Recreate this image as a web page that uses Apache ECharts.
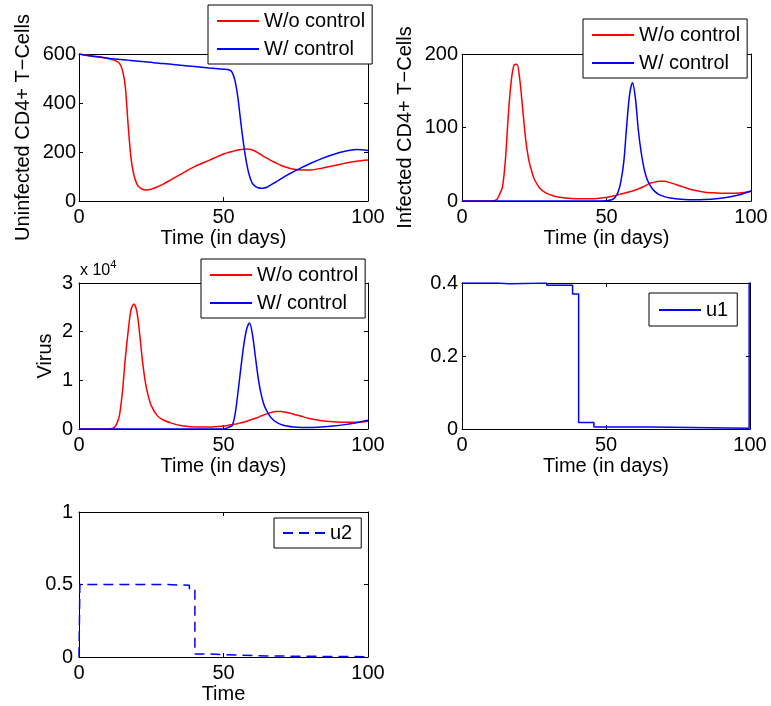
<!DOCTYPE html>
<html>
<head>
<meta charset="utf-8">
<script src="https://cdn.jsdelivr.net/npm/echarts@6/dist/echarts.min.js"></script>
<style>html,body{margin:0;padding:0;background:#fff;}#c{width:771px;height:706px;}</style>
</head>
<body>
<div id="c"></div>
<script>
// ---- data ----
const days = [0,4,8,10,12,13,14,15,16,17,18,19,20,21,22,23,24,25,27,29,32,35,40,45,50,52,53,54,55,56,57,58,59,60,61,62,63,64,65,66,67,68,70,72,74,77,80,84,88,92,96,100];
const uninfectedWo = [600,593,587,582,575,570,562,535,470,310,175,106,70,55,48,45,46,48,57,68,88,108,140,166,192,199,202,205,208,210,211,212,211,208,203,196,189,181,175,168,162,156,145,137,131,127,127,134,144,154,162,167];
const uninfectedW = [600,592,586,583,580,579,578,577,576,575,573,572,571,570,569,568,567,566,563,561,558,554,549,543,538,535,525,490,420,320,228,154,102,72,60,54,52,53,56,63,70,77,91,106,118,136,153,173,190,203,210,206];
const infectedWo = [0,0,0,0,2,9,19,55,115,162,185,186,165,125,85,58,42,30,17,11,6.5,4.5,3,3,4.8,6.5,7.5,8.5,9.5,10.5,11.5,12.5,13.7,15,16.5,18,20,22,24,25,26,26.8,27,25,22.5,18.5,15,12,11,10.5,11,13];
const infectedW = [0,0,0,0,0,0,0,0,0,0,0,0,0,0,0,0,0,0,0,0,0,0,0,0,0.3,2,5,12,27,54,103,145,161,140,97,66,44,30,22,16,12,9,6,4,3,2,1.7,2,3,5,8.5,14];
const virusWo = [0,0,0,0,200,1000,2800,7500,14300,20000,24500,25700,24200,19500,13800,9500,6700,4800,2800,1900,1200,700,400,400,600,800,900,1000,1100,1300,1400,1600,1800,2000,2200,2400,2700,2900,3100,3300,3500,3600,3600,3400,3100,2600,2100,1700,1500,1400,1400,1600];
const virusW = [0,0,0,0,0,0,0,0,0,0,0,0,0,0,0,0,0,0,0,0,0,0,0,0,0,400,700,3000,7500,12500,17200,20500,21800,19500,15000,10500,7200,5000,3700,2700,2000,1500,900,600,400,300,300,400,600,900,1300,1800];
const u1Time = [0,12,16.5,29.4,38.4,40.5,45.8,65.3,99.7,100];
const u1Value = [0.4,0.398,0.4,0.394,0.37,0.018,0.0055,0.002,0.4,0.4];
const u2Time = [0,0.3,29.2,38.2,40.1,45.3,65,100];
const u2Value = [0,0.5,0.495,0.469,0.02,0.007,0.002,0.002];
const labelWo = 'W/o control';
const labelW = 'W/ control';

// ---- chart ----
const FONT = 'Liberation Sans, Arial, Helvetica, sans-serif';
const RED = '#ff0000', BLUE = '#0000ff';
const pairs = (xs, ys) => xs.map((x, i) => [x, ys[i]]);

const grids = [
  {left: 79, top: 54, width: 289, height: 147},
  {left: 462, top: 54, width: 289, height: 147},
  {left: 79, top: 283, width: 289, height: 146},
  {left: 462, top: 283, width: 288, height: 146},
  {left: 79, top: 512, width: 289, height: 145}
];

function xAxes(gi, name) {
  const common = {
    gridIndex: gi, type: 'value', min: 0, max: 100, interval: 50,
    axisLine: {onZero: false, lineStyle: {color: '#000', width: 1}},
    axisTick: {inside: true, length: 4, lineStyle: {color: '#000'}},
    splitLine: {show: false}
  };
  return [
    Object.assign({}, common, {
      position: 'bottom', name: name, nameLocation: 'middle', nameGap: 27,
      nameTextStyle: {fontSize: 20, color: '#000', fontFamily: FONT},
      axisLabel: {fontSize: 20, color: '#000', margin: 6, fontFamily: FONT}
    }),
    Object.assign({}, common, {position: 'top', axisLabel: {show: false}})
  ];
}
function yAxes(gi, name, max, interval, nameGap, margin, fmt) {
  const common = {
    gridIndex: gi, type: 'value', min: 0, max: max, interval: interval,
    axisLine: {onZero: false, lineStyle: {color: '#000', width: 1}},
    axisTick: {inside: true, length: 4, lineStyle: {color: '#000'}},
    splitLine: {show: false}
  };
  return [
    Object.assign({}, common, {
      position: 'left', name: name, nameLocation: 'middle', nameGap: nameGap, nameRotate: 90,
      nameTextStyle: {fontSize: 20, color: '#000', fontFamily: FONT},
      axisLabel: {fontSize: 20, color: '#000', margin: margin, fontFamily: FONT, formatter: fmt}
    }),
    Object.assign({}, common, {position: 'right', axisLabel: {show: false}})
  ];
}

const xAxis = [].concat(
  xAxes(0, 'Time (in days)'), xAxes(1, 'Time (in days)'), xAxes(2, 'Time (in days)'),
  xAxes(3, 'Time (in days)'), xAxes(4, 'Time'));
const yAxis = [].concat(
  yAxes(0, 'Uninfected CD4+ T\u2212Cells', 600, 200, 46, 3),
  yAxes(1, 'Infected CD4+ T\u2212Cells', 200, 100, 47, 4),
  yAxes(2, 'Virus', 30000, 10000, 24, 6, v => String(v / 10000)),
  yAxes(3, '', 0.4, 0.2, 20, 4),
  yAxes(4, '', 1, 0.5, 20, 6));

function line(name, gi, data, color, extra) {
  return Object.assign({
    name: name, type: 'line', xAxisIndex: gi * 2, yAxisIndex: gi * 2,
    data: data, symbol: 'none', showSymbol: false, smooth: 0.3,
    lineStyle: {color: color, width: 1.5}, itemStyle: {color: color},
    animation: false
  }, extra || {});
}

const series = [
  line(labelWo, 0, pairs(days, uninfectedWo), RED),
  line(labelW, 0, pairs(days, uninfectedW), BLUE),
  line(labelWo, 1, pairs(days, infectedWo), RED),
  line(labelW, 1, pairs(days, infectedW), BLUE),
  line(labelWo, 2, pairs(days, virusWo), RED),
  line(labelW, 2, pairs(days, virusW), BLUE),
  line('u1', 3, pairs(u1Time, u1Value), BLUE, {smooth: false, step: 'end'}),
  line('u2', 4, pairs(u2Time, u2Value), BLUE, {smooth: false, step: 'end',
    lineStyle: {color: BLUE, width: 1.5, type: [10, 6]}})
];

function legend(data, left, top, padding) {
  return {
    data: data, orient: 'vertical', left: left, top: top, padding: padding,
    itemWidth: 42, itemHeight: 14, itemGap: 8,
    itemStyle: {opacity: 0},
    backgroundColor: '#fff', borderColor: '#000', borderWidth: 1, borderRadius: 0,
    textStyle: {fontSize: 20, color: '#000', fontFamily: FONT},
    selectedMode: false
  };
}

const option = {
  backgroundColor: '#fff',
  animation: false,
  grid: grids,
  xAxis: xAxis,
  yAxis: yAxis,
  series: series,
  legend: [
    legend([labelWo, labelW], 208, 5, [6, 7, 5, 8]),
    legend([labelWo, labelW], 583, 19, [6, 7, 5, 8]),
    legend([labelWo, labelW], 201, 259, [6, 7, 5, 8]),
    legend(['u1'], 649, 293, [7, 9, 6, 9]),
    legend(['u2'], 274, 518, [5, 9, 5, 8])
  ],
  graphic: [{
    type: 'text', left: 80, top: 259,
    style: {
      text: '{a|x 10}{b|4}',
      rich: {
        a: {fontSize: 16, lineHeight: 24, fontFamily: FONT, fill: '#000'},
        b: {fontSize: 11, verticalAlign: 'top', fontFamily: FONT, fill: '#000'}
      }
    }
  }]
};

const chart = echarts.init(document.getElementById('c'), null, {renderer: 'canvas'});
chart.setOption(option);
</script>
</body>
</html>
